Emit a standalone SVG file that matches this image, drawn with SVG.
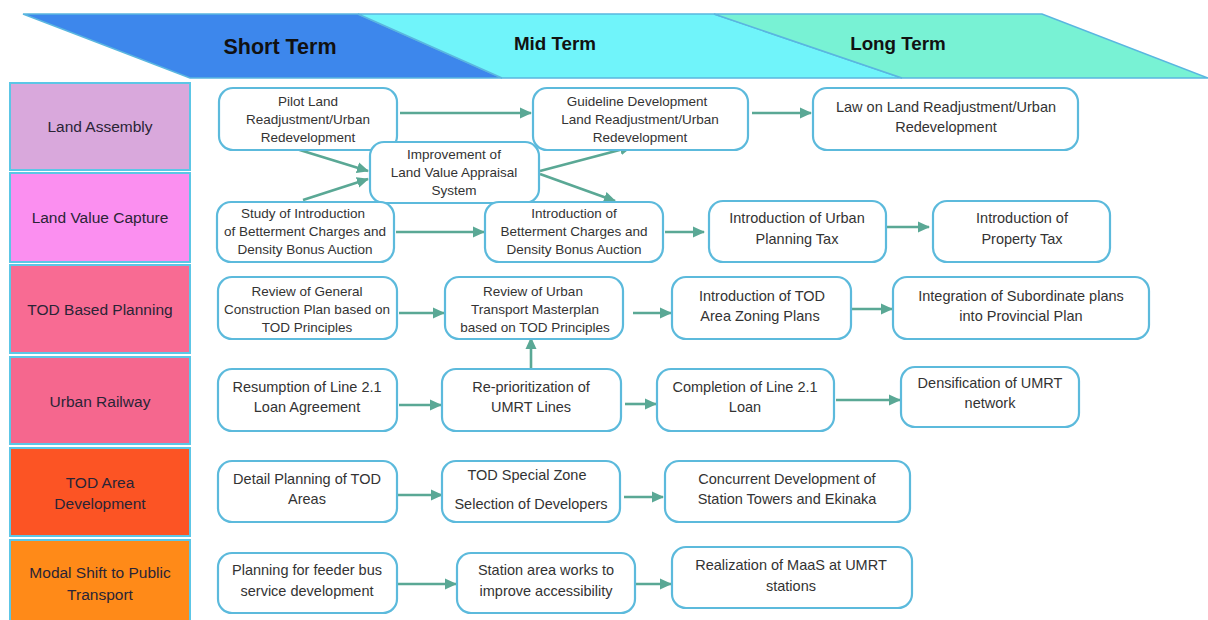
<svg xmlns="http://www.w3.org/2000/svg" width="1208" height="620" viewBox="0 0 1208 620">
  <defs>
    <marker id="arrow" markerUnits="userSpaceOnUse" markerWidth="12" markerHeight="12" viewBox="0 0 12 12" refX="11" refY="6" orient="auto">
      <path d="M0,0.5 L12,6 L0,11.5 Z" fill="#5aa895"/>
    </marker>
    <style>
      .phase { stroke: #5ab6e0; stroke-width: 1.5; }
      .phase-label { font-family: "Liberation Sans", Arial, sans-serif; font-weight: bold; fill: #111; text-anchor: middle; }
      .lane rect { stroke: #5cc6e6; stroke-width: 2; }
      .lane text { font-family: "Liberation Sans", Arial, sans-serif; font-size: 15.5px; fill: #2a2436; text-anchor: middle; }
      .node rect { fill: #ffffff; stroke: #5cbadc; stroke-width: 2.2; }
      .node text { font-family: "Liberation Sans", Arial, sans-serif; fill: #333; text-anchor: middle; }
      .t3 { font-size: 13.5px; }
      .t2 { font-size: 14.5px; }
      #connectors line { stroke: #5aa895; stroke-width: 2.6; marker-end: url(#arrow); }
    </style>
  </defs>

  <rect width="1208" height="620" fill="#ffffff"/>

  <!-- timeline header -->
  <g id="timeline">
    <polygon class="phase" points="23,14 358,14 502,78 190,78" fill="#3d87ec"/>
    <polygon class="phase" points="358,14 714,14 902,78 502,78" fill="#70f4fa"/>
    <polygon class="phase" points="714,14 1042,14 1208,78 902,78" fill="#78f2d4"/>
    <text class="phase-label" x="280" y="54" font-size="21.5">Short Term</text>
    <text class="phase-label" x="555" y="50" font-size="18.8">Mid Term</text>
    <text class="phase-label" x="898" y="50" font-size="18.8">Long Term</text>
  </g>

  <!-- swimlane labels -->
  <g id="lane-land-assembly" class="lane">
    <rect x="10" y="83" width="180" height="87" fill="#d9a8dc"/>
    <text x="100" y="132">Land Assembly</text>
  </g>
  <g id="lane-land-value-capture" class="lane">
    <rect x="10" y="173" width="180" height="89" fill="#fb8ff0"/>
    <text x="100" y="223">Land Value Capture</text>
  </g>
  <g id="lane-tod-planning" class="lane">
    <rect x="10" y="265" width="180" height="88" fill="#f86b93"/>
    <text x="100" y="315">TOD Based Planning</text>
  </g>
  <g id="lane-urban-railway" class="lane">
    <rect x="10" y="357" width="180" height="87" fill="#f5678e"/>
    <text x="100" y="407">Urban Railway</text>
  </g>
  <g id="lane-tod-area" class="lane">
    <rect x="10" y="448" width="180" height="88" fill="#fc5424"/>
    <text x="100" y="488">TOD Area</text>
    <text x="100" y="509">Development</text>
  </g>
  <g id="lane-modal-shift" class="lane">
    <rect x="10" y="540" width="180" height="84" fill="#ff8a18"/>
    <text x="100" y="578">Modal Shift to Public</text>
    <text x="100" y="600">Transport</text>
  </g>

  <!-- connectors -->
  <g id="connectors">
    <line x1="400" y1="113" x2="531" y2="113"/>
    <line x1="752" y1="113" x2="811" y2="113"/>
    <line x1="290" y1="147" x2="368" y2="171"/>
    <line x1="303" y1="200" x2="368" y2="179"/>
    <line x1="540" y1="171" x2="631" y2="147"/>
    <line x1="540" y1="174" x2="615" y2="201"/>
    <line x1="396" y1="232" x2="484" y2="232"/>
    <line x1="665" y1="232" x2="704" y2="232"/>
    <line x1="887" y1="227" x2="929" y2="227"/>
    <line x1="399" y1="313" x2="444" y2="313"/>
    <line x1="633" y1="313" x2="671" y2="313"/>
    <line x1="850" y1="309" x2="892" y2="309"/>
    <line x1="531" y1="368" x2="531" y2="338"/>
    <line x1="399" y1="405" x2="441" y2="405"/>
    <line x1="625" y1="404" x2="656" y2="404"/>
    <line x1="836" y1="400" x2="900" y2="400"/>
    <line x1="398" y1="495" x2="442" y2="495"/>
    <line x1="624" y1="497" x2="663" y2="497"/>
    <line x1="398" y1="584" x2="456" y2="584"/>
    <line x1="634" y1="584" x2="671" y2="584"/>
  </g>

  <!-- Land Assembly -->
  <g id="pilot-land" class="node">
    <rect x="219" y="88" width="178" height="62" rx="14"/>
    <text class="t3"><tspan x="308" y="105.5">Pilot Land</tspan><tspan x="308" y="123.5">Readjustment/Urban</tspan><tspan x="308" y="141.5">Redevelopment</tspan></text>
  </g>
  <g id="guideline-development" class="node">
    <rect x="533" y="88" width="215" height="62" rx="14"/>
    <text class="t3"><tspan x="637" y="105.5">Guideline Development</tspan><tspan x="640" y="123.5">Land Readjustment/Urban</tspan><tspan x="640" y="141.5">Redevelopment</tspan></text>
  </g>
  <g id="law-land-readjustment" class="node">
    <rect x="813" y="88" width="265" height="62" rx="14"/>
    <text class="t2"><tspan x="946" y="112">Law on Land Readjustment/Urban</tspan><tspan x="946" y="132">Redevelopment</tspan></text>
  </g>
  <g id="land-value-appraisal" class="node">
    <rect x="370" y="142" width="169" height="61" rx="14"/>
    <text class="t3"><tspan x="454" y="159">Improvement of</tspan><tspan x="454" y="177">Land Value Appraisal</tspan><tspan x="454" y="195">System</tspan></text>
  </g>

  <!-- Land Value Capture -->
  <g id="study-betterment" class="node">
    <rect x="217" y="202" width="177" height="60" rx="14"/>
    <text class="t3"><tspan x="303" y="217.5">Study of Introduction</tspan><tspan x="305" y="236">of Betterment Charges and</tspan><tspan x="305" y="253.5">Density Bonus Auction</tspan></text>
  </g>
  <g id="introduce-betterment" class="node">
    <rect x="485" y="202" width="178" height="60" rx="14"/>
    <text class="t3"><tspan x="574" y="217.5">Introduction of</tspan><tspan x="574" y="236">Betterment Charges and</tspan><tspan x="574" y="253.5">Density Bonus Auction</tspan></text>
  </g>
  <g id="urban-planning-tax" class="node">
    <rect x="709" y="201" width="177" height="61" rx="14"/>
    <text class="t2"><tspan x="797" y="223">Introduction of Urban</tspan><tspan x="797" y="244">Planning Tax</tspan></text>
  </g>
  <g id="property-tax" class="node">
    <rect x="933" y="201" width="177" height="61" rx="14"/>
    <text class="t2"><tspan x="1022" y="223">Introduction of</tspan><tspan x="1022" y="244">Property Tax</tspan></text>
  </g>

  <!-- TOD Based Planning -->
  <g id="general-construction-plan" class="node">
    <rect x="218" y="277" width="179" height="62" rx="14"/>
    <text class="t3"><tspan x="307" y="295.5">Review of General</tspan><tspan x="307" y="313.5">Construction Plan based on</tspan><tspan x="307" y="331.5">TOD Principles</tspan></text>
  </g>
  <g id="transport-masterplan" class="node">
    <rect x="445" y="277" width="178" height="62" rx="14"/>
    <text class="t3"><tspan x="533" y="295.5">Review of Urban</tspan><tspan x="535" y="313.5">Transport Masterplan</tspan><tspan x="535" y="331.5">based on TOD Principles</tspan></text>
  </g>
  <g id="tod-zoning" class="node">
    <rect x="672" y="277" width="179" height="62" rx="14"/>
    <text class="t2"><tspan x="762" y="301">Introduction of TOD</tspan><tspan x="760" y="321">Area Zoning Plans</tspan></text>
  </g>
  <g id="provincial-plan" class="node">
    <rect x="893" y="277" width="256" height="62" rx="14"/>
    <text class="t2"><tspan x="1021" y="301">Integration of Subordinate plans</tspan><tspan x="1021" y="321">into Provincial Plan</tspan></text>
  </g>

  <!-- Urban Railway -->
  <g id="line21-loan" class="node">
    <rect x="218" y="369" width="179" height="62" rx="14"/>
    <text class="t2"><tspan x="307" y="392">Resumption of Line 2.1</tspan><tspan x="307" y="412">Loan Agreement</tspan></text>
  </g>
  <g id="umrt-prioritization" class="node">
    <rect x="442" y="369" width="179" height="62" rx="14"/>
    <text class="t2"><tspan x="531" y="392">Re-prioritization of</tspan><tspan x="531" y="412">UMRT Lines</tspan></text>
  </g>
  <g id="line21-completion" class="node">
    <rect x="657" y="369" width="177" height="62" rx="14"/>
    <text class="t2"><tspan x="745" y="392">Completion of Line 2.1</tspan><tspan x="745" y="412">Loan</tspan></text>
  </g>
  <g id="umrt-densification" class="node">
    <rect x="901" y="367" width="178" height="60" rx="14"/>
    <text class="t2"><tspan x="990" y="388">Densification of UMRT</tspan><tspan x="990" y="408">network</tspan></text>
  </g>

  <!-- TOD Area Development -->
  <g id="tod-detail-planning" class="node">
    <rect x="218" y="461" width="179" height="61" rx="14"/>
    <text class="t2"><tspan x="307" y="484">Detail Planning of TOD</tspan><tspan x="307" y="504">Areas</tspan></text>
  </g>
  <g id="developer-selection" class="node">
    <rect x="442" y="461" width="178" height="61" rx="14"/>
    <text class="t2"><tspan x="527" y="480">TOD Special Zone</tspan><tspan x="531" y="509">Selection of Developers</tspan></text>
  </g>
  <g id="station-towers" class="node">
    <rect x="665" y="461" width="245" height="61" rx="14"/>
    <text class="t2"><tspan x="787" y="484">Concurrent Development of</tspan><tspan x="787" y="504">Station Towers and Ekinaka</tspan></text>
  </g>

  <!-- Modal Shift to Public Transport -->
  <g id="feeder-bus" class="node">
    <rect x="218" y="553" width="179" height="60" rx="14"/>
    <text class="t2"><tspan x="307" y="575">Planning for feeder bus</tspan><tspan x="307" y="596">service development</tspan></text>
  </g>
  <g id="station-access" class="node">
    <rect x="457" y="553" width="178" height="60" rx="14"/>
    <text class="t2"><tspan x="546" y="575">Station area works to</tspan><tspan x="546" y="596">improve accessibility</tspan></text>
  </g>
  <g id="maas" class="node">
    <rect x="672" y="547" width="240" height="61" rx="14"/>
    <text class="t2"><tspan x="791" y="570">Realization of MaaS at UMRT</tspan><tspan x="791" y="591">stations</tspan></text>
  </g>
</svg>
